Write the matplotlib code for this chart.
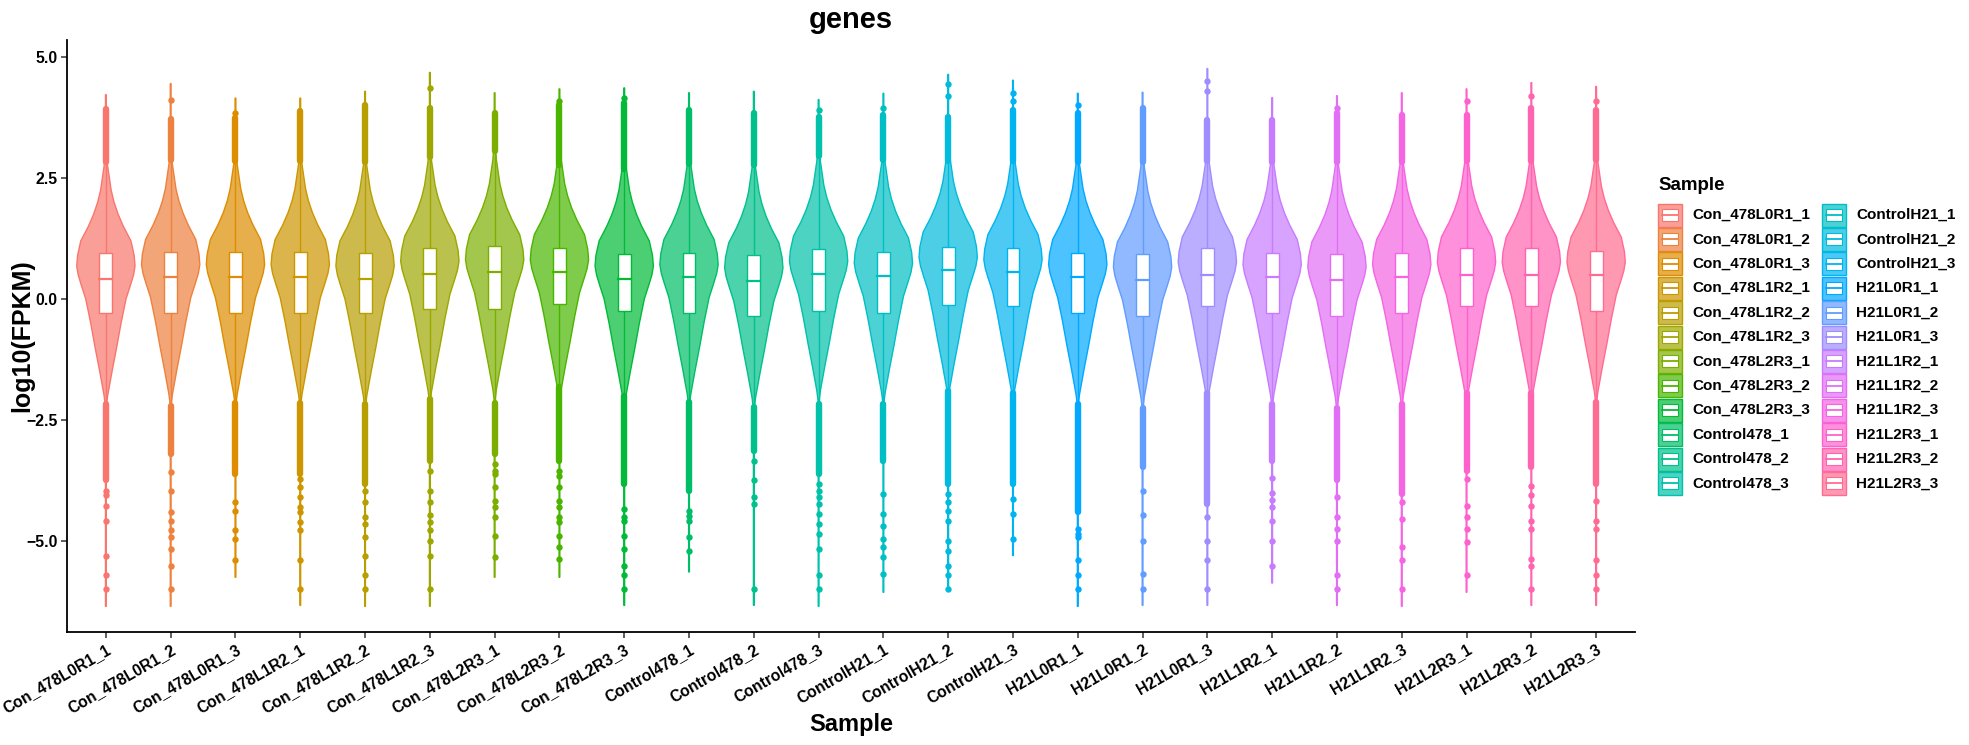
import numpy as np
import matplotlib
matplotlib.use("Agg")
import matplotlib.pyplot as plt
from matplotlib.patches import Rectangle, Polygon

plt.rcParams['font.family'] = ['Liberation Sans', 'DejaVu Sans']

samples = ["Con_478L0R1_1", "Con_478L0R1_2", "Con_478L0R1_3",
           "Con_478L1R2_1", "Con_478L1R2_2", "Con_478L1R2_3",
           "Con_478L2R3_1", "Con_478L2R3_2", "Con_478L2R3_3",
           "Control478_1", "Control478_2", "Control478_3",
           "ControlH21_1", "ControlH21_2", "ControlH21_3",
           "H21L0R1_1", "H21L0R1_2", "H21L0R1_3",
           "H21L1R2_1", "H21L1R2_2", "H21L1R2_3",
           "H21L2R3_1", "H21L2R3_2", "H21L2R3_3"]

q1 = [-0.30, -0.30, -0.28, -0.28, -0.30, -0.20, -0.20, -0.10, -0.25, -0.28, -0.35, -0.25,
      -0.28, -0.12, -0.15, -0.30, -0.35, -0.15, -0.30, -0.35, -0.30, -0.15, -0.15, -0.25]
median = [0.42, 0.45, 0.45, 0.45, 0.42, 0.52, 0.55, 0.55, 0.42, 0.45, 0.38, 0.52,
          0.48, 0.60, 0.55, 0.45, 0.40, 0.50, 0.45, 0.40, 0.45, 0.50, 0.50, 0.50]
q3 = [0.95, 0.97, 0.97, 0.97, 0.95, 1.05, 1.10, 1.05, 0.92, 0.95, 0.90, 1.03,
      0.98, 1.07, 1.05, 0.95, 0.92, 1.05, 0.95, 0.92, 0.95, 1.05, 1.05, 1.00]
vmax = [4.22, 4.45, 4.15, 4.15, 4.29, 4.68, 4.26, 4.34, 4.36, 4.26, 4.29, 4.12,
        4.25, 4.64, 4.52, 4.25, 4.27, 4.76, 4.16, 4.20, 4.26, 4.34, 4.47, 4.39]
vmin = [-6.35, -6.35, -5.75, -6.33, -6.35, -6.35, -5.75, -5.75, -6.33, -5.64, -6.33, -6.35,
        -6.06, -6.03, -5.30, -6.35, -6.33, -6.33, -5.87, -6.33, -6.35, -6.06, -6.33, -6.33]
upper_dense_top = [3.92, 3.71, 3.73, 3.88, 4.00, 3.95, 3.85, 4.00, 4.05, 3.90, 3.85, 3.75,
                   3.80, 3.75, 3.90, 3.85, 3.95, 3.70, 3.70, 3.85, 3.80, 3.80, 3.95, 3.90]
upper_points = [[], [4.12], [3.85], [], [], [4.35], [], [4.1], [4.15], [], [], [3.9],
                [3.95], [4.2, 4.45], [4.1, 4.25], [4.0], [], [4.3, 4.5], [], [3.95], [],
                [4.1], [4.2], [4.1]]
lower_dense_bottom = [-3.75, -3.20, -3.62, -3.62, -3.82, -3.34, -3.20, -3.34, -3.82, -3.96, -3.15, -3.62,
                      -3.34, -3.82, -3.82, -4.40, -3.48, -4.23, -3.34, -3.75, -4.03, -3.55, -3.48, -3.82]
lower_points = [
    [-3.96, -4.06, -4.27, -4.58, -5.30, -5.71, -6.00],
    [-3.58, -3.96, -4.40, -4.58, -4.78, -4.92, -5.16, -5.52, -6.00],
    [-4.20, -4.37, -4.78, -4.95, -5.39],
    [-3.72, -3.89, -4.10, -4.30, -4.40, -4.61, -4.78, -5.40, -6.00],
    [-3.96, -4.20, -4.51, -4.65, -4.92, -5.30, -5.71, -6.00],
    [-3.55, -3.96, -4.20, -4.47, -4.61, -4.78, -4.99, -5.30, -6.00],
    [-3.41, -3.55, -3.62, -3.89, -4.17, -4.30, -4.51, -4.89, -5.33],
    [-3.55, -3.65, -3.89, -4.17, -4.30, -4.51, -4.61, -4.89, -5.13, -5.37],
    [-4.34, -4.51, -4.58, -4.89, -5.16, -5.51, -5.71, -6.00],
    [-4.37, -4.48, -4.58, -4.92, -5.20],
    [-3.34, -3.75, -4.10, -4.23, -6.00],
    [-3.82, -3.96, -4.10, -4.23, -4.44, -4.65, -4.85, -5.16, -5.71, -6.00],
    [-4.03, -4.44, -4.68, -4.95, -5.13, -5.33, -5.68],
    [-4.03, -4.20, -4.37, -4.58, -4.99, -5.20, -5.51, -5.71, -6.00],
    [-4.13, -4.44, -4.95],
    [-4.75, -4.85, -4.92, -5.40, -5.71, -6.00],
    [-3.96, -4.47, -4.99, -5.68, -6.00],
    [-4.51, -4.99, -5.40, -6.00],
    [-3.69, -4.00, -4.15, -4.30, -4.58, -4.99, -5.51],
    [-4.10, -4.51, -4.75, -4.99, -5.71, -6.00],
    [-4.20, -4.54, -5.13, -5.40, -6.00],
    [-3.72, -4.27, -4.51, -4.75, -5.02, -5.71],
    [-3.86, -4.06, -4.27, -4.58, -4.75, -5.37, -5.51, -6.00],
    [-4.17, -4.58, -4.75, -5.40, -5.71, -6.00],
]
# shared violin outline: offset from median (log10 units) and relative half-width
profile_offset = [-2.82, -2.62, -2.42, -1.92, -1.42, -0.92, -0.42, -0.12, 0.08, 0.26,
                  0.48, 0.78, 1.08, 1.33, 1.58, 1.83, 2.08, 2.33, 2.58, 2.88]
profile_width = [0.0, 0.02, 0.06, 0.21, 0.37, 0.52, 0.69, 0.85, 0.95, 1.0,
                 0.97, 0.86, 0.60, 0.42, 0.28, 0.18, 0.12, 0.06, 0.03, 0.0]

yticks = [-5.0, -2.5, 0.0, 2.5, 5.0]


def hcl_to_rgb(h, c=100.0, l=65.0):
    hr = np.deg2rad(h)
    U, V = c * np.cos(hr), c * np.sin(hr)
    Xn, Yn, Zn = 95.047, 100.0, 108.883
    Y = Yn * ((l + 16) / 116) ** 3
    un = 4 * Xn / (Xn + 15 * Yn + 3 * Zn)
    vn = 9 * Yn / (Xn + 15 * Yn + 3 * Zn)
    u = U / (13 * l) + un
    v = V / (13 * l) + vn
    X = Y * 9 * u / (4 * v)
    Z = Y * (12 - 3 * u - 20 * v) / (4 * v)
    xyz = np.array([X, Y, Z]) / 100
    M = np.array([[3.2404542, -1.5371385, -0.4985314],
                  [-0.9692660, 1.8760108, 0.0415560],
                  [0.0556434, -0.2040259, 1.0572252]])
    rgb = M @ xyz
    rgb = np.where(rgb <= 0.0031308, 12.92 * rgb, 1.055 * np.clip(rgb, 0, None) ** (1 / 2.4) - 0.055)
    return tuple(np.clip(rgb, 0, 1))


n = len(samples)
hues = np.linspace(15, 375, n + 1)[:n]
colors = [hcl_to_rgb(h) for h in hues]

W, H = 1969, 745
fig = plt.figure(figsize=(W / 100, H / 100), dpi=100)
ax = fig.add_axes([67 / W, 1 - 632 / H, (1635 - 67) / W, (632 - 40) / H])

half = 0.45
bw = 0.1
pt_ms = 4.6
for i in range(n):
    x = i + 1
    col = colors[i]
    med = median[i]
    ys = [med + o for o in profile_offset]
    ws = [half * w for w in profile_width]
    ys_full = [vmin[i]] + ys + [vmax[i]]
    ws_full = [0.006] + [max(w, 0.006) for w in ws] + [0.006]
    left = [(x - w, y) for w, y in zip(ws_full, ys_full)]
    right = [(x + w, y) for w, y in zip(ws_full[::-1], ys_full[::-1])]
    ax.add_patch(Polygon(left + right, closed=True, facecolor=(*col, 0.7),
                         edgecolor=col, lw=1.0, zorder=2))
    iqr = q3[i] - q1[i]
    wlo = q1[i] - 1.5 * iqr
    whi = q3[i] + 1.5 * iqr
    ax.plot([x, x], [q3[i], whi], color=col, lw=1.0, zorder=3)
    ax.plot([x, x], [wlo, q1[i]], color=col, lw=1.0, zorder=3)
    ax.add_patch(Rectangle((x - bw, q1[i]), 2 * bw, iqr, facecolor='white',
                           edgecolor=col, lw=1.0, zorder=4))
    ax.plot([x - bw, x + bw], [med, med], color=col, lw=1.6, zorder=5)
    ax.plot([x, x], [whi, upper_dense_top[i]], color=col, lw=4.6,
            solid_capstyle='round', zorder=3)
    ax.plot([x, x], [lower_dense_bottom[i], wlo], color=col, lw=4.6,
            solid_capstyle='round', zorder=3)
    pts = upper_points[i] + lower_points[i]
    ax.plot([x] * len(pts), pts, 'o', color=col, ms=pt_ms, mew=0, zorder=3)

ax.set_xlim(0.4, n + 0.6)
ax.set_ylim(-6.88, 5.35)
ax.set_xticks(range(1, n + 1))
ax.set_xticklabels(samples, rotation=30, ha='right', rotation_mode='anchor',
                   fontsize=11.3, fontweight='bold')
ax.set_yticks(yticks)
ax.set_yticklabels([f"{t:.1f}".replace('-', '\u2212') for t in yticks],
                   fontsize=11.3, fontweight='bold')
for s in ['top', 'right']:
    ax.spines[s].set_visible(False)
for s in ['left', 'bottom']:
    ax.spines[s].set_linewidth(1.3)
ax.tick_params(axis='both', length=4, width=1.1, color='#333333', pad=3)

# overlay in pixel coordinates for titles and legend
lax = fig.add_axes([0, 0, 1, 1])
lax.set_xlim(0, W)
lax.set_ylim(H, 0)
lax.axis('off')
lax.text(851, 20, "genes", fontsize=21, fontweight='bold', ha='center', va='center')
lax.text(22, 336, "log10(FPKM)", fontsize=18, fontweight='bold', rotation=90,
         ha='center', va='center')
lax.text(851, 724, "Sample", fontsize=17, fontweight='bold', ha='center', va='center')

lax.text(1658, 185, "Sample", fontsize=13.5, fontweight='bold', va='center', ha='left')
row0, dy = 215, 24.4
for i in range(n):
    colx = 1658 if i < 12 else 1822
    r = i % 12
    yc = row0 + r * dy
    col = colors[i]
    lax.add_patch(Rectangle((colx, yc - 11.5), 24, 23, facecolor=(*col, 0.7),
                            edgecolor=col, lw=1.0))
    lax.add_patch(Rectangle((colx + 4, yc - 6), 16, 12, facecolor='white',
                            edgecolor=col, lw=0.8))
    lax.plot([colx + 4, colx + 20], [yc, yc], color=col, lw=1.3)
    lax.text(colx + 34, yc, samples[i], fontsize=11, fontweight='bold',
             va='center', ha='left')

fig.savefig("out.png", dpi=100)
